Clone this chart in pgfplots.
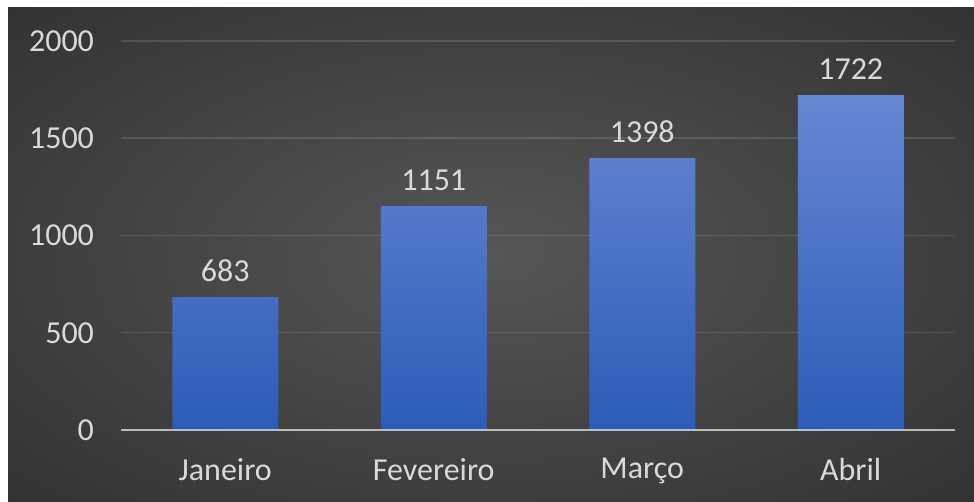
\documentclass[border=0pt]{standalone}
\usepackage{fontspec}
\setmainfont{Carlito}
\usepackage{pgfplots}
\pgfplotsset{compat=1.18}
\definecolor{txt}{RGB}{217,217,217}
\definecolor{bgin}{RGB}{86,86,86}
\definecolor{bgout}{RGB}{36,36,36}
\definecolor{bartop}{RGB}{102,135,210}
\definecolor{barbot}{RGB}{44,92,184}
\pgfdeclareradialshading{bgshade}{\pgfpoint{0bp}{0bp}}{color(0bp)=(bgin); color(50bp)=(bgout)}
\begin{document}
\begin{tikzpicture}
\fill[white] (0,0) rectangle (487pt,251pt);
\path[shading=bgshade] (4pt,0) rectangle (487pt,247pt);
\begin{axis}[
  at={(60.5pt,36pt)}, anchor=south west,
  scale only axis, width=417pt, height=194.5pt,
  xmin=-0.5, xmax=3.5, ymin=0, ymax=2000,
  axis lines=left, axis line style={draw=none},
  tick style={draw=none}, major tick length=0pt,
  xtick={0,1,2,3}, xticklabels={Janeiro,Fevereiro,Março,Abril},
  ytick={0,500,1000,1500,2000},
  ymajorgrids, grid style={white, opacity=0.12, line width=0.75pt},
  tick label style={font=\fontsize{16}{19}\selectfont, text=txt},
  /pgf/number format/assume math mode=true,
  /pgf/number format/1000 sep={},
  yticklabel style={xshift=-10pt},
  xticklabel style={yshift=-10.5pt},
  clip=false,
]
\addplot[ybar, bar width=53pt, draw=none, top color=bartop, bottom color=barbot,
  nodes near coords,
  nodes near coords style={font=\fontsize{16}{19}\selectfont, text=txt, yshift=4pt}]
  coordinates {(0,683) (1,1151) (2,1398) (3,1722)};
\addplot[no marks, white, opacity=0.6, line width=1pt] coordinates {(-0.5,0) (3.5,0)};
\end{axis}
\end{tikzpicture}
\end{document}
